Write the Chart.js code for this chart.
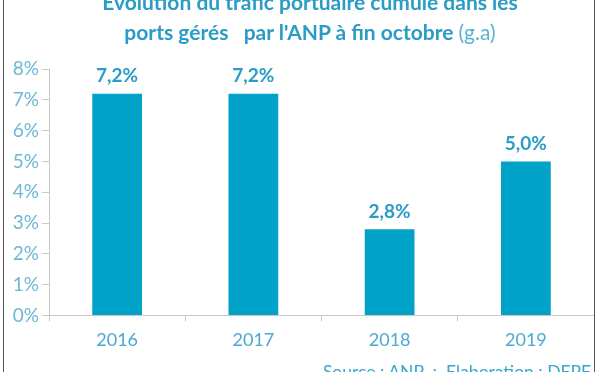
<!DOCTYPE html>
<html>
<head>
<meta charset="utf-8">
<script src="https://cdn.jsdelivr.net/npm/chart.js@4"></script>
<style>
  body { margin: 0; background: #fff; }
  .cadre { position: relative; width: 600px; height: 372px; overflow: hidden; font-family: Lato, "Open Sans", sans-serif; }
  .bord-g { position: absolute; left: 3px; top: 0; width: 1px; height: 372px; background: #555; }
  .bord-d { position: absolute; left: 594px; top: 0; width: 1px; height: 372px; background: #555; }
  .titre { position: absolute; left: 10px; width: 600px; text-align: center; color: #2a9cc6; font-weight: 700; font-size: 21px; line-height: 26px; }
  .titre .ga { font-weight: 400; color: #5ab2d2; }
  .source { position: absolute; right: 9px; top: 361px; color: #3aa6cc; font-size: 17.5px; }
  canvas { position: absolute; left: 0; top: 0; }
</style>
</head>
<body>
<div class="cadre">
  <canvas id="grafTrafic" width="600" height="372"></canvas>
  <div class="titre" style="top:-11px">Evolution du trafic portuaire cumulé dans les</div>
  <div class="titre" style="top:19px">ports gérés&nbsp;&nbsp; par l'ANP à fin octobre <span class="ga">(g.a)</span></div>
  <div class="source">Source : ANP&nbsp; ; &nbsp;Elaboration : DEPF</div>
  <div class="bord-g"></div>
  <div class="bord-d"></div>
</div>
<script>
const annees = ['2016', '2017', '2018', '2019'];
const croissance = [7.2, 7.2, 2.8, 5.0];
const ticksY = [0, 1, 2, 3, 4, 5, 6, 7, 8];

const bleuBarre = '#00a2c7';
const bleuTexte = '#4aaad0';

// etiquettes au-dessus des barres
const etiquettes = {
  id: 'etiquettes',
  afterDatasetsDraw(chart) {
    const ctx = chart.ctx;
    const meta = chart.getDatasetMeta(0);
    ctx.save();
    ctx.font = 'bold 19px Lato, "Open Sans", sans-serif';
    ctx.fillStyle = '#2a9cc6';
    ctx.textAlign = 'center';
    ctx.textBaseline = 'bottom';
    meta.data.forEach((barre, i) => {
      const txt = croissance[i].toFixed(1).replace('.', ',') + '%';
      ctx.fillText(txt, barre.x, barre.y - 8);
    });
    ctx.restore();
  }
};

const grafica = document.getElementById('grafTrafic').getContext('2d');

new Chart(grafica, {
  type: 'bar',
  data: {
    labels: annees,
    datasets: [{
      data: croissance,
      backgroundColor: bleuBarre,
      borderWidth: 0,
      categoryPercentage: 1,
      barPercentage: 0.365
    }]
  },
  options: {
    responsive: false,
    animation: false,
    layout: { padding: { top: 69, right: 6, bottom: 13, left: 4 } },
    plugins: {
      legend: { display: false },
      tooltip: { enabled: false }
    },
    scales: {
      x: {
        grid: { offset: true, drawOnChartArea: false, drawTicks: true, tickLength: 6, color: '#c8c8c8' },
        border: { color: '#c8c8c8' },
        ticks: { color: bleuTexte, padding: 8, font: { size: 18, family: 'Lato' } }
      },
      y: {
        min: 0,
        max: 8,
        afterBuildTicks: (axis) => { axis.ticks = ticksY.map(v => ({ value: v })); },
        afterFit: (axis) => { axis.width = 45; },
        grid: { drawOnChartArea: false, drawTicks: true, tickLength: 7, color: '#c8c8c8' },
        border: { color: '#c8c8c8' },
        ticks: {
          color: '#6bb8d6',
          padding: 3,
          font: { size: 19, family: 'Lato' },
          callback: (v) => v + '%'
        }
      }
    }
  },
  plugins: [etiquettes]
});
</script>
</body>
</html>
